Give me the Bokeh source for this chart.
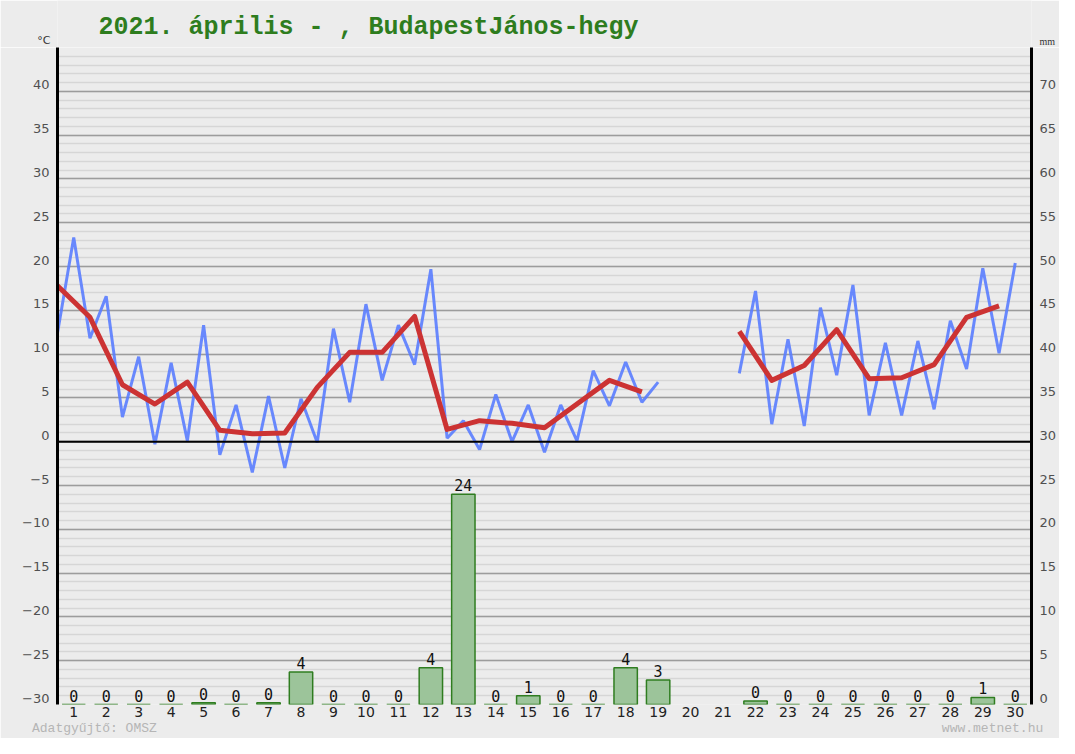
import math
from bokeh.plotting import figure
from bokeh.layouts import column
from bokeh.models import Range1d, LinearAxis, FixedTicker, Span, ColumnDataSource
from bokeh.embed import file_html
from bokeh.resources import INLINE
from bokeh.core.properties import value

nan = float("nan")

title_text = "2021. április - , BudapestJános-hegy"
left_unit = "°C"
right_unit = "mm"
footer_left = "Adatgyűjtő: OMSZ"
footer_right = "www.metnet.hu"

days = list(range(1, 31))
# daily maximum temperature (°C), plotted at the day mark
tmax = [23.3, 16.6, 9.7, 9.0, 13.3, 4.2, 5.2, 4.9, 12.9, 15.7,
        13.3, 19.7, 2.4, 5.4, 4.2, 4.2, 8.1, 9.1, 6.8, nan,
        nan, 17.2, 11.7, 15.3, 17.9, 11.3, 11.5, 13.8, 19.8, 20.4]
# minimum temperature (°C), plotted half a day before the day mark
tmin = [12.4, 11.8, 2.8, -0.3, 0.1, -1.5, -3.5, -3.0, -0.1, 4.5,
        7.0, 8.8, 0.4, -0.9, 0.0, -1.2, 0.1, 4.1, 4.5, nan,
        nan, 7.8, 2.0, 1.8, 7.6, 3.0, 3.0, 3.7, 8.3, 10.1]
# daily mean temperature (°C)
tavg = [17.8, 14.2, 6.5, 4.3, 6.8, 1.3, 0.9, 1.0, 6.2, 10.2,
        10.2, 14.3, 1.4, 2.4, 2.1, 1.6, 4.3, 7.0, 5.7, nan,
        nan, 12.6, 7.0, 8.7, 12.8, 7.2, 7.3, 8.8, 14.2, 15.5]
# daily precipitation (mm)
precip = [0, 0, 0, 0, 0.2, 0, 0.2, 3.7, 0, 0,
          0, 4.2, 24.0, 0, 1.0, 0, 0, 4.2, 2.8, nan,
          nan, 0.4, 0, 0, 0, 0, 0, 0, 0.8, 0]
temp_ticks = list(range(-30, 45, 5))
mm_ticks = list(range(0, 75, 5))

BG = "#ececec"
W = 1059
TOP_H = 47
MAIN_H = 691
FL, FR, FB = 57, 1033, 660          # frame left/right (px), frame bottom inside main figure
X0, X1 = 0.5, 30.5
Y0, Y1 = -30, 45
SHIFT = 0.74                        # tick labels sit a little above their grid line


def bare_axis(ax, size, color, font, standoff):
    ax.axis_line_color = None
    ax.major_tick_line_color = None
    ax.minor_tick_line_color = None
    ax.major_tick_in = 0
    ax.major_tick_out = 0
    ax.minor_tick_in = 0
    ax.minor_tick_out = 0
    ax.major_label_standoff = standoff
    ax.major_label_text_font = font
    ax.major_label_text_font_size = size
    ax.major_label_text_color = color
    return ax


# ---------------- header strip (title and units) ----------------
top = figure(width=W, height=TOP_H, output_backend="svg", toolbar_location=None,
             x_range=Range1d(FL, FR), y_range=Range1d(TOP_H, 0),
             x_axis_location=None, y_axis_location=None,
             background_fill_color=BG, border_fill_color=BG, outline_line_color=None,
             min_border_left=FL, min_border_right=W - FR,
             min_border_top=0, min_border_bottom=0)
top.grid.visible = False
top.text(x=[98], y=[27], text=[title_text], text_font=value("Liberation Mono"),
         text_font_style="bold", text_font_size="25px", text_color="#2e7d1e",
         text_baseline="middle", text_align="left")
ua = bare_axis(LinearAxis(ticker=FixedTicker(ticks=[40]), major_label_overrides={40: left_unit}),
               "11px", "#333333", "DejaVu Sans", 7)
top.add_layout(ua, "left")
ub = bare_axis(LinearAxis(ticker=FixedTicker(ticks=[42]), major_label_overrides={42: right_unit}),
               "10px", "#333333", "Liberation Serif", 8)
top.add_layout(ub, "right")

# ---------------- main chart ----------------
p = figure(width=W, height=MAIN_H, output_backend="svg", toolbar_location=None,
           x_range=Range1d(X0, X1), y_range=Range1d(Y0, Y1),
           x_axis_location="below", y_axis_location=None,
           background_fill_color=BG, border_fill_color=BG, outline_line_color=None,
           min_border_left=FL, min_border_right=W - FR, min_border_top=0,
           min_border_bottom=MAIN_H - FB)

p.extra_y_ranges = {
    "lab": Range1d(Y0 - SHIFT, Y1 - SHIFT),
    "labr": Range1d(0 - SHIFT, 75 - SHIFT),
    "mm": Range1d(0, 75),
}

# grid
p.xgrid.visible = False
p.ygrid.ticker = FixedTicker(ticks=list(range(-30, 50, 5)), minor_ticks=list(range(-30, 46)))
p.ygrid.grid_line_color = "#9c9c9c"
p.ygrid.grid_line_width = 1.5
p.ygrid.minor_grid_line_color = "#d6d6d6"
p.ygrid.minor_grid_line_width = 1.5

# x axis (days)
xa = bare_axis(p.xaxis[0], "14px", "#222222", "DejaVu Sans", 2)
xa.ticker = FixedTicker(ticks=days)

# footer line under the day labels
px_x = (X1 - X0) / (FR - FL)
foot_pos = [X0 + (94 - FL) * px_x, X0 + (994 - FL) * px_x]
fa = bare_axis(LinearAxis(ticker=FixedTicker(ticks=foot_pos),
                          major_label_overrides={foot_pos[0]: footer_left,
                                                 foot_pos[1]: footer_right}),
               "13px", "#b5b5b5", "Liberation Mono", 1)
p.add_layout(fa, "below")

# left axis (°C)
la = bare_axis(LinearAxis(y_range_name="lab", ticker=FixedTicker(ticks=temp_ticks)),
               "13px", "#505050", "DejaVu Sans", 8)
la.axis_line_color = "black"
la.axis_line_width = 3
p.add_layout(la, "left")

# right axis (mm)
ra = bare_axis(LinearAxis(y_range_name="labr", ticker=FixedTicker(ticks=mm_ticks)),
               "13px", "#505050", "DejaVu Sans", 8)
ra.axis_line_color = "black"
ra.axis_line_width = 3
p.add_layout(ra, "right")

# zero line
p.add_layout(Span(location=0, dimension="width", line_color="black", line_width=2))

# precipitation bars with rounded value labels
bars = ColumnDataSource(dict(x=days, top=precip,
                             lab=["" if math.isnan(v) else str(round(v)) for v in precip]))
p.vbar(x="x", top="top", bottom=0, width=0.72, source=bars, y_range_name="mm",
       fill_color="#9cc49a", line_color="#2f7d20", line_width=1.5)
p.text(x="x", y="top", text="lab", source=bars, y_range_name="mm",
       text_align="center", text_baseline="bottom", y_offset=-3,
       text_font=value("DejaVu Sans Mono"), text_font_size="15px", text_color="#111111")

# temperature lines
bx, by = [], []
for d, lo, hi in zip(days, tmin, tmax):
    bx += [d - 0.5, d]
    by += [lo, hi]
p.line(bx, by, line_color="#5a7dff", line_width=3, line_alpha=0.9)
p.line([d - 0.5 for d in days], tavg, line_color="#cc3333", line_width=5, line_join="round")

layout = column(top, p, spacing=0)
open("out.html", "w").write(file_html(layout, INLINE))
